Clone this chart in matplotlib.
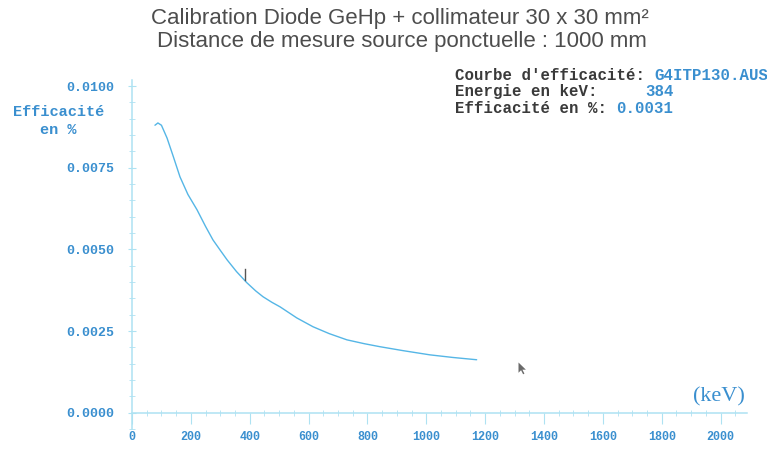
import matplotlib
matplotlib.use("Agg")
import matplotlib.pyplot as plt
from matplotlib.path import Path
from matplotlib.ticker import MultipleLocator, FixedLocator

# Efficiency curve (energy in keV, efficiency in %)
energy_kev = [78, 88, 100, 119, 140, 163, 190, 221, 250, 275, 300, 323, 355,
              390, 420, 445, 475, 503, 560, 615, 670, 730, 790, 842, 920,
              1012, 1090, 1171]
efficiency = [0.00880, 0.00887, 0.00880, 0.00841, 0.00785, 0.00722, 0.00668,
              0.00621, 0.00570, 0.00529, 0.00497, 0.00468, 0.00432,
              0.00398, 0.00373, 0.00355, 0.00338, 0.00324, 0.00290,
              0.00263, 0.00242, 0.00223, 0.00211, 0.00202, 0.00190,
              0.00177, 0.00169, 0.00162]

x_ticks = [0, 200, 400, 600, 800, 1000, 1200, 1400, 1600, 1800, 2000]
y_ticks = [0.0, 0.0025, 0.0050, 0.0075, 0.0100]
y_tick_labels = ["0.0000", "0.0025", "0.0050", "0.0075", "0.0100"]

curve_file = "G4ITP130.AUS"
cursor_kev = 384
cursor_eff_label = "0.0031"

BLUE = "#3a8fcf"
CURVE = "#55b6e6"
AXIS = "#aee2f2"
GREY = "#4d4d4d"
MONO = "Liberation Mono"

fig = plt.figure(figsize=(7.67, 4.5), dpi=100)
ax = fig.add_axes([0.1721, 0.0467, 0.802, 0.7766])
ax.set_xlim(0, 2090)
ax.set_ylim(-0.0005, 0.0102)

for s in ("top", "right"):
    ax.spines[s].set_visible(False)
ax.spines["bottom"].set_position(("data", 0))
ax.spines["bottom"].set_color(AXIS)
ax.spines["left"].set_color(AXIS)
ax.spines["bottom"].set_linewidth(1.1)
ax.spines["left"].set_linewidth(1.1)

ax.xaxis.set_major_locator(FixedLocator(x_ticks))
ax.xaxis.set_minor_locator(MultipleLocator(50))
ax.set_xticklabels([str(v) for v in x_ticks], fontfamily=MONO,
                   fontweight="bold", fontsize=8.5, color=BLUE)
ax.tick_params(axis="x", which="major", direction="out", length=8,
               color=AXIS, pad=5)
ax.tick_params(axis="x", which="minor", direction="inout", length=4,
               color=AXIS)

ax.yaxis.set_major_locator(FixedLocator(y_ticks))
ax.yaxis.set_minor_locator(MultipleLocator(0.0005))
ax.set_yticklabels(y_tick_labels, fontfamily=MONO, fontweight="bold",
                   fontsize=9.5, color=BLUE)
ax.tick_params(axis="y", which="major", direction="inout", length=6,
               color=AXIS, pad=10)
ax.tick_params(axis="y", which="minor", direction="inout", length=4,
               color=AXIS)

# Efficiency curve
ax.plot(energy_kev, efficiency, color=CURVE, lw=1.0, solid_capstyle="round")

# Energy cursor
ax.plot([cursor_kev, cursor_kev], [0.00405, 0.00440], color="#555555", lw=1.0)

# Mouse pointer
arrow = Path([(0, 0), (0, -1.0), (0.25, -0.75), (0.45, -1.15), (0.58, -1.08),
              (0.38, -0.7), (0.72, -0.7), (0, 0)],
             [Path.MOVETO] + [Path.LINETO] * 6 + [Path.CLOSEPOLY])
ax.plot([1311], [0.00156], marker=arrow, markersize=17, color="#6a6a6a",
        markeredgewidth=0)

# Titles and labels
fig.text(0.522, 0.958, "Calibration Diode GeHp + collimateur 30 x 30 mm²",
         ha="center", va="center", fontsize=16, color=GREY,
         fontfamily="Liberation Sans")
fig.text(0.524, 0.907, "Distance de mesure source ponctuelle : 1000 mm",
         ha="center", va="center", fontsize=16, color=GREY,
         fontfamily="Liberation Sans")

fig.text(0.076, 0.750, "Efficacité", ha="center", va="center",
         fontsize=11, color=BLUE, fontfamily=MONO, fontweight="bold")
fig.text(0.076, 0.710, "en %", ha="center", va="center",
         fontsize=11, color=BLUE, fontfamily=MONO, fontweight="bold")

fig.text(0.937, 0.118, "(keV)", ha="center", va="center", fontsize=16,
         color=BLUE, fontfamily="Liberation Serif")

# Info block (fixed-width columns)
x0 = 0.593
rows = [("Courbe d'efficacité: ", curve_file),
        ("Energie en keV:     ", f"{cursor_kev}"),
        ("Efficacité en %: ", cursor_eff_label)]
ys = [0.833, 0.796, 0.759]
for (lab, val), yy in zip(rows, ys):
    t = fig.text(x0, yy, lab, ha="left", va="center", fontsize=11.3,
                 color="#3a3a3a", fontfamily=MONO, fontweight="bold")
    fig.canvas.draw()
    bb = t.get_window_extent()
    fig.text(bb.x1 / fig.bbox.width, yy, val, ha="left", va="center",
             fontsize=11.3, color=BLUE, fontfamily=MONO, fontweight="bold")

fig.savefig("out.png", dpi=100)
